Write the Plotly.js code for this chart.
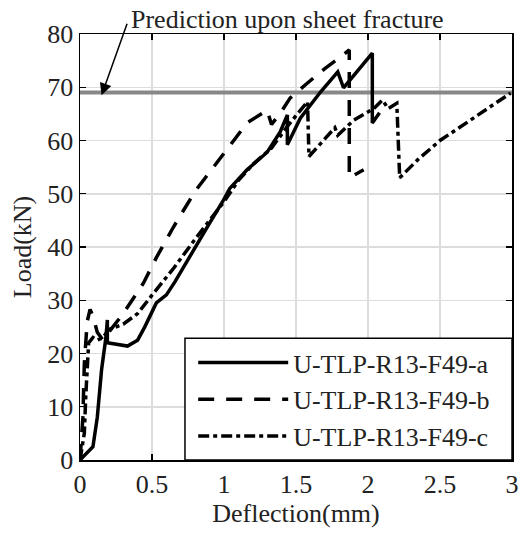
<!DOCTYPE html>
<html>
<head>
<meta charset="utf-8">
<script src="https://cdn.plot.ly/plotly-3.0.1.min.js"></script>
<style>html,body{margin:0;padding:0;background:#fff;}#chart{width:521px;height:540px;}</style>
</head>
<body>
<div id="chart"></div>
<script>
// Deflection (mm) / Load (kN)
const aX = [0, 0.09, 0.12, 0.15, 0.18, 0.19, 0.19, 0.25, 0.33, 0.40, 0.45, 0.53, 0.60, 0.66, 0.785, 0.90, 0.99, 1.04, 1.16, 1.30, 1.39, 1.44, 1.44, 1.53, 1.67, 1.79, 1.83, 2.03, 2.03, 2.08];
const aY = [0, 2.5, 8, 17, 23, 26.3, 22, 21.8, 21.4, 22.5, 25, 29.5, 31, 33.5, 39.4, 44.5, 48.5, 51, 54.5, 57.8, 61.6, 64.8, 59.2, 64.2, 69.1, 72.9, 69.9, 76.4, 63.3, 65.2];

const bX = [0, 0.02, 0.03, 0.05, 0.07, 0.09, 0.12, 0.16, 0.20, 0.30, 0.44, 0.53, 0.65, 0.80, 1.00, 1.16, 1.30, 1.33, 1.40, 1.46, 1.58, 1.70, 1.81, 1.87, 1.87, 1.97];
const bY = [0, 8, 18, 26, 28.3, 27, 24, 22.5, 24, 27.5, 33.2, 38, 43.8, 50.5, 57.6, 63.3, 65.7, 63, 65.5, 68, 70.8, 73.5, 75.7, 77, 53, 54.5];

const cX = [0, 0.03, 0.04, 0.05, 0.06, 0.09, 0.12, 0.16, 0.20, 0.30, 0.40, 0.51, 0.65, 0.80, 1.00, 1.10, 1.20, 1.33, 1.45, 1.58, 1.59, 1.77, 1.79, 1.90, 2.04, 2.10, 2.14, 2.20, 2.22, 2.35, 2.50, 2.71, 2.99];
const cY = [0, 5, 12, 18, 22, 23, 22.5, 23, 24.5, 25.5, 27.5, 31.3, 36, 41.5, 48.5, 52.5, 55.5, 58.6, 63, 67.3, 57, 62.4, 61, 63.8, 66, 67.6, 66, 67, 53, 56.5, 60, 63.8, 68.9];

const seriesNames = ['U-TLP-R13-F49-a', 'U-TLP-R13-F49-b', 'U-TLP-R13-F49-c'];
const predictionLoad = 69;
const xRange = [0, 3];
const yRange = [0, 80];
const xTicks = [0, 0.5, 1, 1.5, 2, 2.5, 3];
const xTickText = ['0', '0.5', '1', '1.5', '2', '2.5', '3'];
const yTicks = [0, 10, 20, 30, 40, 50, 60, 70, 80];

const FONT = "'Liberation Serif', 'Times New Roman', 'DejaVu Serif', serif";
const FS = 26;

const traces = [
  {x: xRange, y: [predictionLoad, predictionLoad], mode: 'lines', line: {color: '#888888', width: 4}, showlegend: false, hoverinfo: 'skip'},
  {x: aX, y: aY, name: seriesNames[0], mode: 'lines', line: {color: '#000', width: 3.5, dash: 'solid'}},
  {x: bX, y: bY, name: seriesNames[1], mode: 'lines', line: {color: '#000', width: 3.5, dash: '16px,12px'}},
  {x: cX, y: cY, name: seriesNames[2], mode: 'lines', line: {color: '#000', width: 3.5, dash: '11px,4px,4px,4px'}}
];

const axisCommon = {
  showline: true, linecolor: '#000', linewidth: 1.5, mirror: 'ticks',
  ticks: 'inside', ticklen: 6, tickwidth: 1.2, tickcolor: '#000',
  showgrid: true, gridcolor: '#dddddd', gridwidth: 1.5,
  zeroline: false,
  tickfont: {family: FONT, size: FS, color: '#222'}
};

const layout = {
  width: 521, height: 540,
  margin: {l: 80, r: 9, t: 34, b: 80},
  paper_bgcolor: '#fff', plot_bgcolor: '#fff',
  font: {family: FONT, size: FS, color: '#222'},
  xaxis: Object.assign({}, axisCommon, {
    range: xRange, tickvals: xTicks, ticktext: xTickText,
    title: {text: 'Deflection(mm)', font: {family: FONT, size: FS, color: '#222'}, standoff: 2}
  }),
  yaxis: Object.assign({}, axisCommon, {
    range: yRange, tickvals: yTicks,
    title: {text: 'Load(kN)', font: {family: FONT, size: FS, color: '#222'}, standoff: 8}
  }),
  legend: {
    x: 0.262, y: 0.0, xanchor: 'left', yanchor: 'bottom',
    bgcolor: 'rgba(0,0,0,0)', borderwidth: 0,
    font: {family: FONT, size: FS, color: '#222'},
    itemwidth: 90, tracegroupgap: 0
  },
  shapes: [
    {type: 'rect', xref: 'paper', yref: 'paper', x0: 0.243, x1: 1, y0: 0, y1: 0.286,
     fillcolor: '#fff', line: {color: '#000', width: 1.5}, layer: 'above'}
  ],
  annotations: [
    {x: 0.15, y: 68.5, xref: 'x', yref: 'y', text: '', showarrow: true,
     ax: 26, ay: -73, arrowhead: 2, arrowsize: 1.6, arrowwidth: 1.5, arrowcolor: '#000'},
    {x: 0.481, y: 1.035, xref: 'paper', yref: 'paper', xanchor: 'center', yanchor: 'middle',
     text: 'Prediction upon sheet fracture', showarrow: false,
     font: {family: FONT, size: FS, color: '#222'}}
  ],
  showlegend: true
};

Plotly.newPlot('chart', traces, layout, {displayModeBar: false, staticPlot: true});
</script>
</body>
</html>
